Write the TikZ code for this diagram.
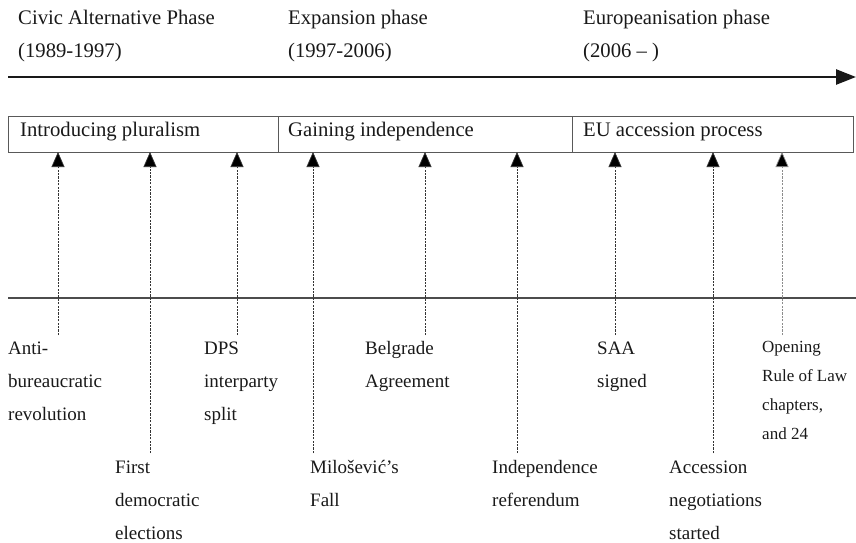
\documentclass[tikz,border=0pt]{standalone}
\usepackage{fontspec}
\setmainfont{Liberation Serif}
\usetikzlibrary{arrows.meta}
\begin{document}
\begin{tikzpicture}[x=1pt,y=-1pt,
  hdr/.style={anchor=base west,inner sep=0pt,font=\fontsize{20.7}{33}\selectfont,text=black!90},
  lbl/.style={anchor=base west,inner sep=0pt,align=left,font=\fontsize{19}{33}\selectfont,text=black!90},
  smalllbl/.style={anchor=base west,inner sep=0pt,align=left,font=\fontsize{17}{29}\selectfont,text=black!90},
  evarrow/.style={draw=black!80,line width=0.7pt,dash pattern=on 2.2pt off 1.2pt,-{Triangle[width=13pt,length=15pt,fill=black]}},
  phasebox/.style={draw=black!65,line width=0.9pt}]
\useasboundingbox (0,0) rectangle (856,542);
% header
\node[hdr] (h1) at (18,24) {Civic Alternative Phase};
\node[hdr] (h1y) at (18,57) {(1989-1997)};
\node[hdr] (h2) at (288,24) {Expansion phase};
\node[hdr] (h2y) at (288,57) {(1997-2006)};
\node[hdr] (h3) at (583,24) {Europeanisation phase};
\node[hdr] (h3y) at (583,57) {(2006 -- )};
\coordinate (ta) at (8,77);
\coordinate (tb) at (856,77);
\draw[line width=2.5pt,black!90,-{Triangle[width=15pt,length=20pt]}] (ta) -- (tb);
% phase boxes
\draw[phasebox] (8,116) rectangle (853,152);
\draw[phasebox] (278,116) -- (278,152);
\draw[phasebox] (572,116) -- (572,152);
\node[hdr] (p1) at (20,136) {Introducing pluralism};
\node[hdr] (p2) at (288,136) {Gaining independence};
\node[hdr] (p3) at (583,136) {EU accession process};
% baseline line
\coordinate (la) at (8,298);
\coordinate (lb) at (856,298);
\draw[black!70,line width=1.2pt] (la) -- (lb);
% labels (anchored at baseline of the last line)
\node[lbl] (e1) at (8,420) {Anti-\\bureaucratic\\revolution};
\node[lbl] (e2) at (115,539) {First\\democratic\\elections};
\node[lbl] (e3) at (204,420) {DPS\\interparty\\split};
\node[lbl] (e4) at (310,506) {Milošević’s\\Fall};
\node[lbl] (e5) at (365,387) {Belgrade\\Agreement};
\node[lbl] (e6) at (492,506) {Independence\\referendum};
\node[lbl] (e7) at (597,387) {SAA\\signed};
\node[lbl] (e8) at (669,539) {Accession\\negotiations\\started};
\node[smalllbl] (e9) at (762,439) {Opening\\Rule of Law\\chapters,\\and 24};
% arrows
\foreach \n/\x/\y in {1/58/335, 2/150/453, 3/237/335, 4/313/453, 5/425/335, 6/517/453, 7/615/335, 8/713/453, 9/782/335}{
  \coordinate (s\n) at (\x,\y);
  \coordinate (t\n) at (\x,152);
}
\foreach \n in {1,...,8}{\draw[evarrow] (s\n) -- (t\n);}
\draw[evarrow,draw=black!45] (s9) -- (t9);
\end{tikzpicture}
\end{document}
